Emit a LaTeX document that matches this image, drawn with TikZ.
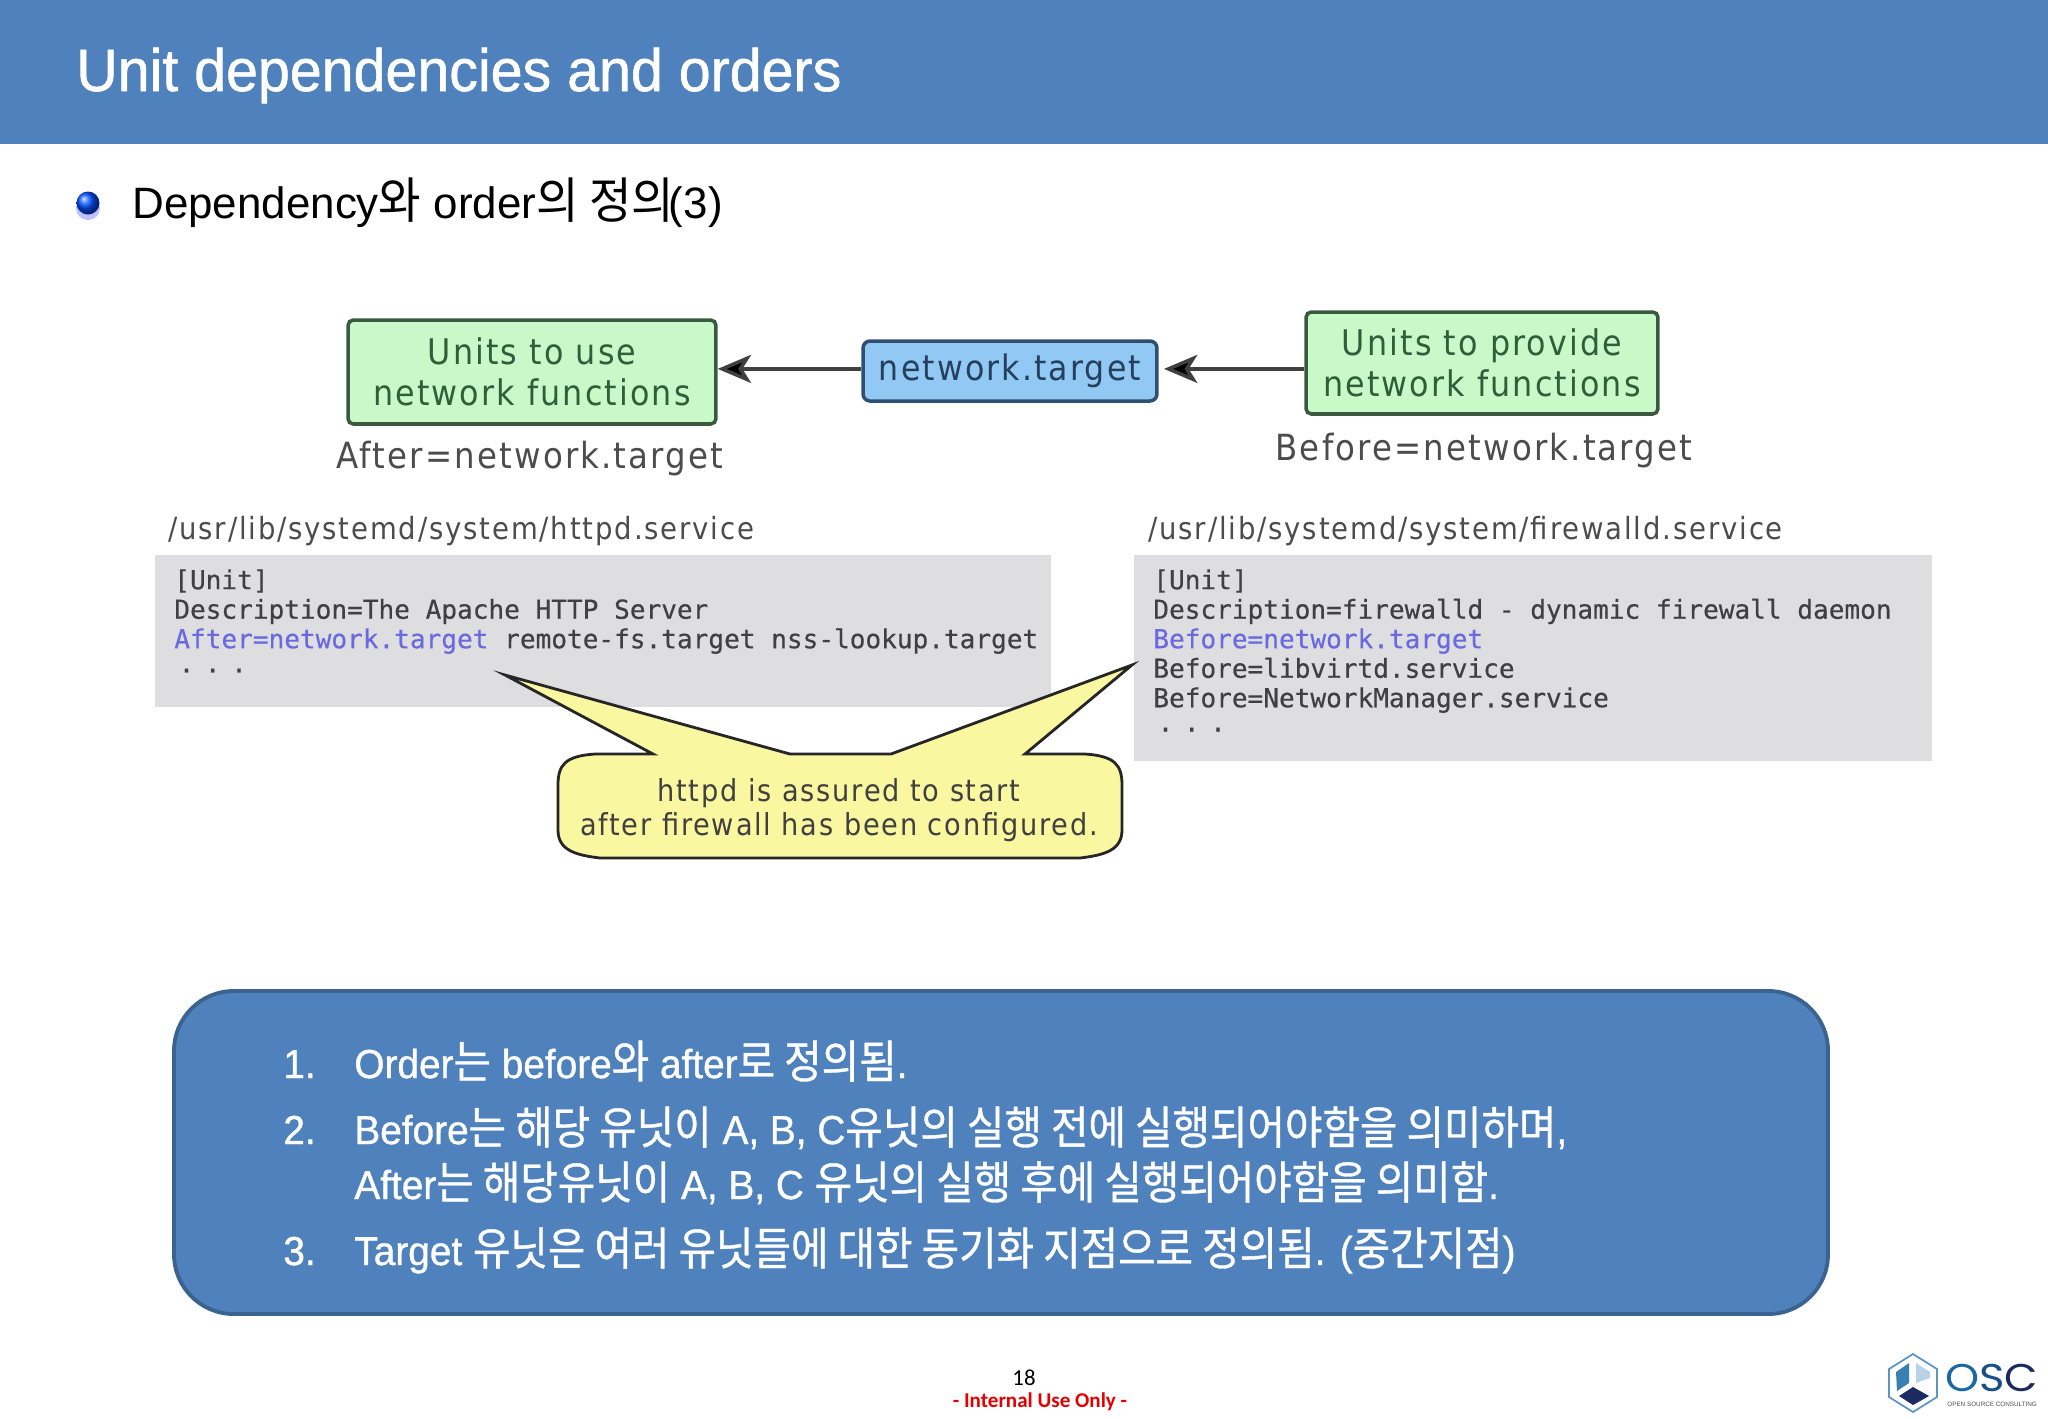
\documentclass[tikz,border=0pt]{standalone}
\usepackage{fontspec}
\usepackage{xcolor}
\usetikzlibrary{arrows.meta}
\setmainfont{Liberation Sans}
\newfontfamily\slidefont[FakeStretch=0.96,FakeBold=1]{Liberation Sans}
\newfontfamily\krfont[FakeStretch=0.9,Scale=1.12,FakeBold=0.8]{Noto Sans CJK KR}
\newfontfamily\krheadfont[FakeStretch=0.94,Scale=1.12]{Noto Sans CJK KR}
\newfontfamily\dejafont[FakeStretch=0.9,LetterSpace=6]{DejaVu Sans}
\newfontfamily\codefont[FakeBold=0.4]{DejaVu Sans Mono}
\newfontfamily\footfont{Carlito}
\newfontfamily\logofont[FakeStretch=1.12]{Poppins}
\newcommand{\kr}[1]{{\krfont #1}}
\newcommand{\krhead}[1]{{\krheadfont #1}}
\definecolor{slideblue}{HTML}{4F81BD}
\definecolor{paneledge}{HTML}{3B6390}
\definecolor{boxgreen}{HTML}{C9F8C9}
\definecolor{greenedge}{HTML}{3A5A40}
\definecolor{greentext}{HTML}{2E5E3A}
\definecolor{boxblue}{HTML}{92C8F4}
\definecolor{blueedge}{HTML}{2F4F70}
\definecolor{bluetext}{HTML}{24405C}
\definecolor{codegray}{HTML}{DEDEE0}
\definecolor{calloutyellow}{HTML}{F9F7A0}
\definecolor{linkblue}{HTML}{6A6AE0}
\definecolor{logoblue}{HTML}{1868A8}
\definecolor{logonavy}{HTML}{1B2A60}

\begin{document}
\begin{tikzpicture}[
    x=0.02cm, y=-0.02cm,
    greenbox/.style={rectangle, draw=greenedge, line width=2pt, fill=boxgreen, rounded corners=3pt, inner sep=0pt, align=center, text=greentext, font=\dejafont\fontsize{20.1}{23}\selectfont},
    bluebox/.style={rectangle, draw=blueedge, line width=2pt, fill=boxblue, rounded corners=4pt, inner sep=0pt, text=bluetext, font=\dejafont\fontsize{20}{23}\selectfont},
    caption/.style={inner sep=0pt, text=black!70, font=\dejafont\fontsize{20.5}{24}\selectfont},
    pathtext/.style={inner sep=0pt, anchor=west, text=black!70, font=\dejafont\fontsize{17.4}{20}\selectfont},
    codebox/.style={rectangle, fill=codegray, inner sep=0pt},
    codetext/.style={inner sep=0pt, anchor=north west, align=left, text=black!75, font=\codefont\fontsize{14.85}{16.8}\selectfont},
    listline/.style={inner sep=0pt, anchor=base west, text=white, font=\slidefont\fontsize{23}{26}\selectfont},
    linkarrow/.style={-{Stealth[length=19pt,width=16pt,inset=5pt,fill=black]}, line width=2pt, draw=black!75}
]
\useasboundingbox (0,0) rectangle (2048,1418);

% Header
\fill[slideblue] (0,0) rectangle (2048,144);
\node[inner sep=0pt, anchor=base west, text=white, font=\slidefont\fontsize{34}{38}\selectfont] (title) at (76,91) {Unit dependencies and orders};

% Bullet
\fill[blue!25] (88,208) circle (12);
\shade[ball color=blue!70!cyan] (88,203) circle (11.5);
\node[inner sep=0pt, anchor=base west, font=\fontsize{25}{28}\selectfont] (heading) at (132,218) {Dependency\krhead{와} order\krhead{의 정의}\hspace{-3pt}(3)};

% Ordering row
\node[greenbox, minimum width=7.36cm, minimum height=2.08cm] (netuse) at (532,372) {Units to use\\network functions};
\node[bluebox, minimum width=5.88cm, minimum height=1.2cm] (nettarget) at (1010,371) {network.target};
\node[greenbox, minimum width=7.04cm, minimum height=2.04cm] (netprovide) at (1482,363) {Units to provide\\network functions};
\draw[linkarrow] ([yshift=1.2pt]nettarget.west) -- ([yshift=1.2pt]netuse.east |- nettarget.west);
\draw[linkarrow, shorten >=3pt] ([yshift=1.2pt]netprovide.west |- nettarget.east) -- ([yshift=1.2pt]nettarget.east);

\node[caption] (aftercap) at (530,459) {After=network.target};
\node[caption] (beforecap) at (1484,451) {Before=network.target};

% Unit files
\node[pathtext] (httpdpath) at (168,531) {/usr/lib/systemd/system/httpd.service};
\node[pathtext] (firewallpath) at (1148,531) {/usr/lib/systemd/system/firewalld.service};

\node[codebox, minimum width=17.92cm, minimum height=3.04cm] (httpdbox) at (603,631) {};
\node[codebox, minimum width=15.96cm, minimum height=4.12cm] (firewallbox) at (1533,658) {};

\node[codetext] (httpdcode) at (174,569) {[Unit]\\Description=The Apache HTTP Server\\\textcolor{linkblue}{After=network.target} remote-fs.target nss-lookup.target\\[-3pt]\,.\hspace{6pt}.\hspace{6pt}.};
\node[codetext] (firewallcode) at (1153,569) {[Unit]\\Description=firewalld - dynamic firewall daemon\\\textcolor{linkblue}{Before=network.target}\\Before=libvirtd.service\\Before=NetworkManager.service\\[-3pt]\,.\hspace{6pt}.\hspace{6pt}.};

% Callout
\draw[fill=calloutyellow, line width=1.6pt, draw=black!85] (653,754) -- (505,675) -- (790,754) -- (891,754) -- (1132,665) -- (1025,754) -- (1085,754)
    .. controls (1115,756) and (1122,765) .. (1122,785) -- (1122,830)
    .. controls (1122,850) and (1105,855) .. (1080,858) -- (600,858)
    .. controls (575,855) and (558,850) .. (558,830) -- (558,785)
    .. controls (558,765) and (565,756) .. (595,754) -- cycle;
\node[inner sep=0pt, align=center, text=black!75, font=\dejafont\fontsize{17.2}{19}\selectfont] (assured) at (839,810) {httpd is assured to start\\after firewall has been configured.};

% Summary panel
\draw[fill=slideblue, draw=paneledge, line width=2.2pt, rounded corners=34pt] (174,991) rectangle (1828,1314);
\node[listline] (numa) at (283,1078) {1.};
\node[listline] (linea) at (354,1078) {Order\kr{는} before\kr{와} after\kr{로 정의됨}.};
\node[listline] (numb) at (283,1144) {2.};
\node[listline] (lineb) at (354,1144) {Before\kr{는 해당 유닛이} A, B, C\kr{유닛의 실행 전에 실행되어야함을 의미하며},};
\node[listline] (linec) at (354,1199) {After\kr{는 해당유닛이} A, B, C \kr{유닛의 실행 후에 실행되어야함을 의미함}.};
\node[listline] (numc) at (283,1265) {3.};
\node[listline] (lined) at (354,1265) {Target \kr{유닛은 여러 유닛들에 대한 동기화 지점으로 정의됨}. (\kr{중간지점})};

% Footer
\node[inner sep=0pt, font=\footfont\fontsize{13}{15}\selectfont] (pagenum) at (1024,1378) {18};
\node[inner sep=0pt, text=red!90!black, font=\footfont\bfseries\fontsize{12}{14}\selectfont] (internal) at (1040,1402) {- Internal Use Only -};

% Logo
\draw[logoblue!70, line width=1pt, fill=white] (1913,1354) -- (1937,1369) -- (1937,1397) -- (1913,1412) -- (1889,1397) -- (1889,1369) -- cycle;
\fill[logoblue!85] (1909,1363) -- (1909,1383) -- (1897,1391) -- (1896,1372) -- cycle;
\fill[logoblue!30] (1916,1363) -- (1930,1372) -- (1930,1378) -- (1916,1383) -- cycle;
\fill[logonavy] (1913,1387) -- (1929,1396) -- (1913,1405) -- (1899,1396) -- cycle;
\node[inner sep=0pt, anchor=base west, text height=14pt, text depth=0pt, font=\logofont\fontsize{22}{24}\selectfont] (osc) at (1945,1391) {\textcolor{logoblue}{O}\textcolor{logoblue!60!logonavy}{S}\textcolor{logonavy}{C}};
\node[inner sep=0pt, anchor=west, text=black!70, font=\fontsize{3.6}{4}\selectfont] (osctag) at (1947,1404) {OPEN SOURCE CONSULTING};
\end{tikzpicture}
\end{document}
